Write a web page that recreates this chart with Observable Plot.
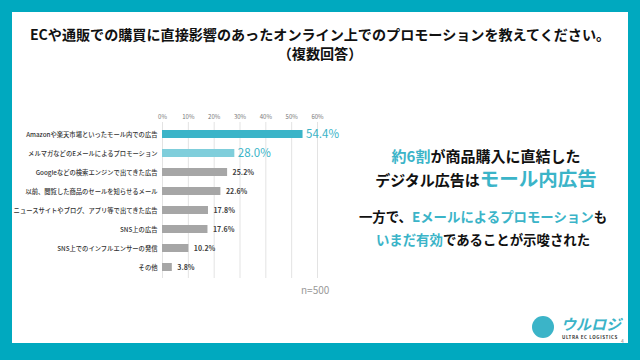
<!DOCTYPE html>
<html><head><meta charset="utf-8">
<script src="https://cdn.jsdelivr.net/npm/d3@7"></script>
<script src="https://cdn.jsdelivr.net/npm/@observablehq/plot@0.6"></script>
<style>
body{margin:0;width:640px;height:360px;overflow:hidden;background:#00A9BF;font-family:"Noto Sans CJK JP","Noto Sans",sans-serif;}
#panel{position:absolute;left:12px;top:12px;width:616px;height:331px;background:#fff;}
.abs{position:absolute;white-space:nowrap;}
.hl{color:#3BB4C8;}
</style></head>
<body>
<div id="panel"></div>
<div class="abs" style="left:0;width:640px;top:25px;text-align:center;font-weight:700;font-size:14.1px;line-height:19px;color:#111;">ECや通販での購買に直接影響のあったオンライン上でのプロモーションを教えてください。<br>（複数回答）</div>
<div id="chart" class="abs" style="left:0;top:100px;"></div>
<div class="abs" style="left:301px;top:282px;font-size:10px;color:#999;">n=500</div>
<div class="abs" style="left:338px;width:296px;top:145px;text-align:center;font-weight:700;font-size:15px;line-height:22px;color:#111;">
<span class="hl">約6割</span>が商品購入に直結した<br>デジタル広告は<span class="hl" style="font-size:19.5px;">モール内広告</span></div>
<div class="abs" style="left:328px;width:310px;top:205px;text-align:center;font-weight:700;font-size:13.4px;line-height:23px;color:#111;">
一方で、<span class="hl">Eメールによるプロモーション</span>も<br><span class="hl">いまだ有効</span>であることが示唆された</div>
<div class="abs" style="left:532px;top:316px;width:22px;height:22px;border-radius:50%;background:#3BB4C8;"></div>
<div class="abs" style="left:561px;top:313px;font-size:15px;font-weight:700;font-style:italic;color:#3BB4C8;">ウルロジ</div>
<div class="abs" style="left:562px;top:334px;font-size:4.5px;font-weight:700;color:#333;letter-spacing:0.6px;">ULTRA EC LOGISTICS</div>
<div class="abs" style="left:621px;top:337px;font-size:5px;color:#888;">4</div>
<script>
const categories = [
  "Amazonや楽天市場といったモール内での広告",
  "メルマガなどのEメールによるプロモーション",
  "Googleなどの検索エンジンで出てきた広告",
  "以前、閲覧した商品のセールを知らせるメール",
  "ニュースサイトやブログ、アプリ等で出てきた広告",
  "SNS上の広告",
  "SNS上でのインフルエンサーの発信",
  "その他"
];
const values = [54.4, 28.0, 25.2, 22.6, 17.8, 17.6, 10.2, 3.8];
const barColors = ["#3BB4C8", "#7FCEDB", "#A6A6A6", "#A6A6A6", "#A6A6A6", "#A6A6A6", "#A6A6A6", "#A6A6A6"];
const xTicks = [0, 10, 20, 30, 40, 50, 60];

const data = categories.map((c, i) => ({cat: c, v: values[i], color: barColors[i], i}));
const big = data.filter(d => d.i < 2);
const small = data.filter(d => d.i >= 2);

const chart = Plot.plot({
  width: 345,
  height: 200,
  marginLeft: 162,
  marginRight: 28,
  marginTop: 22,
  marginBottom: 22,
  style: {fontFamily: '"Noto Sans CJK JP", sans-serif', overflow: "visible"},
  x: {domain: [0, 60], axis: null, label: null},
  y: {domain: categories, padding: 0.58, paddingOuter: 0.27, axis: null, label: null},
  marks: [
    Plot.ruleX(xTicks, {x: d => d, stroke: "#E3E3E3", strokeWidth: 1}),
    Plot.axisX(xTicks, {anchor: "top", tickSize: 0, tickPadding: 4, fontSize: 6, fill: "#777", label: null, tickFormat: d => d + "%"}),
    Plot.axisY({tickSize: 0, tickPadding: 5, fontSize: 6.3, fill: "#333", fontWeight: 500, label: null}),
    Plot.barX(data, {x: "v", y: "cat", fill: "color"}),
    Plot.text(big, {x: "v", y: "cat", text: d => d.v.toFixed(1) + "%", textAnchor: "start", dx: 3, fill: "#3BB4C8", fontSize: 11.5}),
    Plot.text(small, {x: "v", y: "cat", text: d => d.v.toFixed(1) + "%", textAnchor: "start", dx: 5, fill: "#404040", fontSize: 7, fontWeight: 700})
  ]
});
document.getElementById("chart").appendChild(chart);
</script>
</body></html>
